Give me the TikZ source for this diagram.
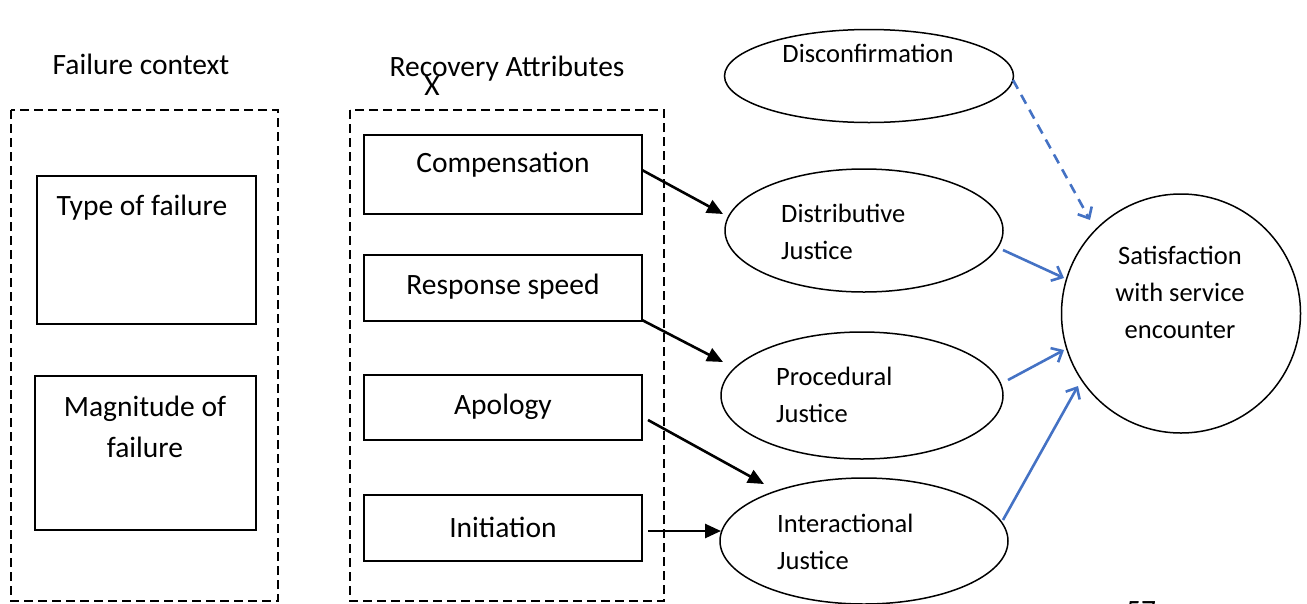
\documentclass[tikz,border=0pt]{standalone}
\usepackage{fontspec}
\setmainfont{Carlito}
\usetikzlibrary{arrows.meta}
\definecolor{bl}{HTML}{4472C4}
\begin{document}
\begin{tikzpicture}[x=1pt,y=-1pt,
  dbox/.style={draw,line width=2.6pt,dash pattern=on 9pt off 5pt},
  sbox/.style={draw,line width=1.3pt},
  shp/.style={line width=1.5pt},
  blk/.style={line width=2.6pt,-{Triangle[length=16pt,width=14pt]}},
  blu/.style={bl,line width=2.6pt,-{Straight Barb[length=9pt,width=16pt]}},
  lbl/.style={font=\fontsize{29.5}{41}\selectfont,align=center,inner sep=0pt},
  slbl/.style={font=\fontsize{26.5}{37}\selectfont,align=left,inner sep=0pt}]
\useasboundingbox (0,0) rectangle (1307,603);
% titles
\node[lbl] (fc) at (141,64) {Failure context};
\node[lbl] (ra) at (507,69) {Recovery Attributes};
\node[lbl] (xx) at (432,86) {X};
% dashed frames
\draw[dbox] (11,110) rectangle (278,601);
\draw[dbox] (350,110) rectangle (664,601);
% left boxes
\draw[sbox] (37,176) rectangle (256,324);
\node[lbl] (tf) at (142,208) {Type of failure};
\draw[sbox] (35,376) rectangle (256,530);
\node[lbl] (mf) at (145,427) {Magnitude of\\failure};
% right boxes
\draw[sbox] (364,135) rectangle (642,214);
\node[lbl] (comp) at (503,165) {Compensation};
\draw[sbox] (364,255) rectangle (642,321);
\node[lbl] (resp) at (503,287) {Response speed};
\draw[sbox] (364,375) rectangle (642,440);
\node[lbl] (apol) at (503,407) {Apology};
\draw[sbox] (364,495) rectangle (642,561);
\node[lbl] (init) at (503,527) {Initiation};
% ellipses
\draw[shp] (869,76) ellipse (144.5 and 46.5);
\node[slbl] (disc) at (868,53) {Disconfirmation};
\draw[shp] (864,230.5) ellipse (139 and 61.5);
\node[slbl,anchor=west] (dist) at (781,232) {Distributive\\Justice};
\draw[shp] (862,395.5) ellipse (141 and 63.5);
\node[slbl,anchor=west] (proc) at (776,395) {Procedural\\Justice};
\draw[shp] (864,541) ellipse (144 and 63);
\node[slbl,anchor=west] (inter) at (777,542) {Interactional\\Justice};
\draw[shp] (1181,313.5) circle (119.5);
\node[slbl,align=center] (sat) at (1180,292) {Satisfaction\\with service\\encounter};
\node[font=\fontsize{29.5}{34}\selectfont] (pg) at (1141,611) {57};
% black arrows
\coordinate (a1) at (642,170); \coordinate (b1) at (723,214);
\coordinate (a2) at (642,320); \coordinate (b2) at (723,362);
\coordinate (a3) at (648,420); \coordinate (b3) at (764,484);
\coordinate (a4) at (648,531); \coordinate (b4) at (721,531);
\draw[blk] (a1) -- (b1);
\draw[blk] (a2) -- (b2);
\draw[blk] (a3) -- (b3);
\draw[blk] (a4) -- (b4);
% blue arrows
\coordinate (c0) at (1013,80); \coordinate (d0) at (1090,220);
\coordinate (c1) at (1003,250); \coordinate (d1) at (1064,278);
\coordinate (c2) at (1008,380); \coordinate (d2) at (1064,350);
\coordinate (c3) at (1003,520); \coordinate (d3) at (1078,386);
\draw[blu,dash pattern=on 10pt off 7pt] (c0) -- (d0);
\draw[blu] (c1) -- (d1);
\draw[blu] (c2) -- (d2);
\draw[blu] (c3) -- (d3);
\end{tikzpicture}
\end{document}
